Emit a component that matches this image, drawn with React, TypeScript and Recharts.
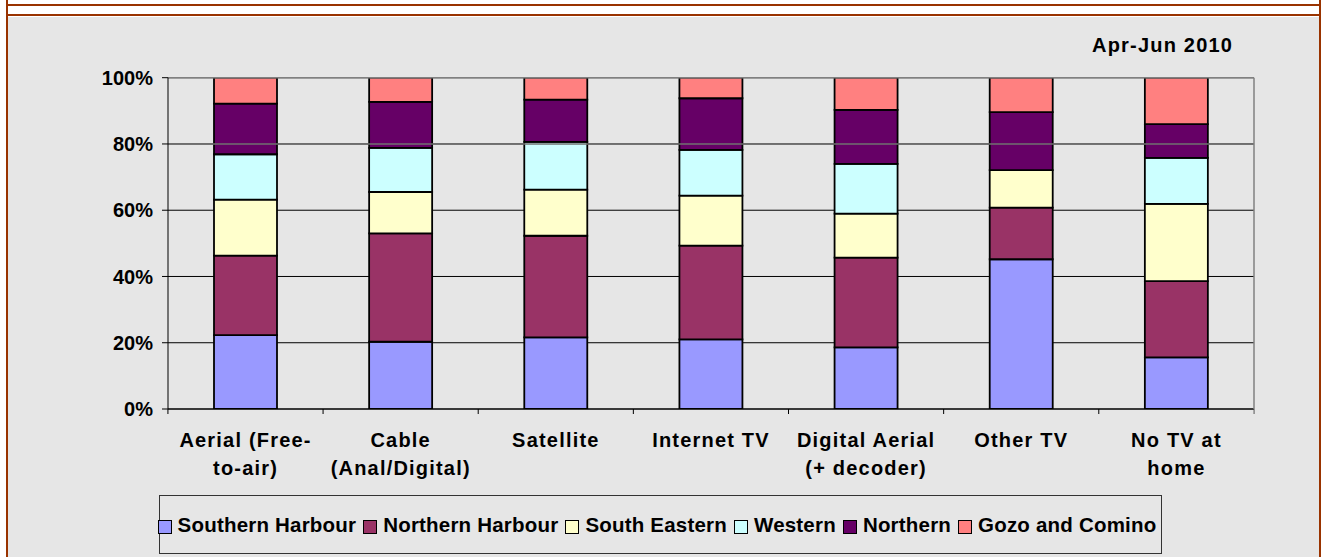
import { Bar, BarChart, CartesianGrid, ReferenceLine, XAxis, YAxis } from 'recharts'

const categories = [
  'Aerial (Free-\nto-air)',
  'Cable\n(Anal/Digital)',
  'Satellite',
  'Internet TV',
  'Digital Aerial\n(+ decoder)',
  'Other TV',
  'No TV at\nhome',
]

const southernHarbour = [22.3, 20.3, 21.6, 21.0, 18.6, 45.2, 15.6]
const northernHarbour = [24.0, 32.7, 30.7, 28.3, 27.1, 15.6, 23.0]
const southEastern = [16.9, 12.5, 13.9, 15.1, 13.3, 11.3, 23.3]
const western = [13.7, 13.3, 14.4, 13.8, 15.0, 0, 13.9]
const northern = [15.3, 13.9, 12.8, 15.6, 16.3, 17.5, 10.2]
const gozoComino = [7.8, 7.3, 6.6, 6.2, 9.7, 10.4, 14.0]

const yTicks = [0, 20, 40, 60, 80, 100]

const series = [
  { key: 'sh', name: 'Southern Harbour', color: '#9999ff', values: southernHarbour },
  { key: 'nh', name: 'Northern Harbour', color: '#993366', values: northernHarbour },
  { key: 'se', name: 'South Eastern', color: '#ffffcc', values: southEastern },
  { key: 'w', name: 'Western', color: '#ccffff', values: western },
  { key: 'n', name: 'Northern', color: '#660066', values: northern },
  { key: 'gc', name: 'Gozo and Comino', color: '#ff8080', values: gozoComino },
]

const data = categories.map((cat, i) => {
  const row: Record<string, string | number> = { cat }
  series.forEach((s) => {
    row[s.key] = s.values[i]
  })
  return row
})

const W = 1328
const H = 557
const PLOT_LEFT = 168
const PLOT_RIGHT = 1255
const PLOT_TOP = 77.7
const PLOT_BOTTOM = 409
const Y_AXIS_W = 60
const X_AXIS_H = 100
const BAND = (PLOT_RIGHT - PLOT_LEFT) / categories.length

const FONT = '"Liberation Sans", Arial, sans-serif'
const BROWN = '#993300'
const BG = '#e6e6e6'

function CategoryTick(props: any) {
  const { x, y, payload, index } = props
  const lines = String(payload.value).split('\n')
  return (
    <g>
      <line x1={x - BAND / 2} x2={x - BAND / 2} y1={y} y2={y + 5} stroke="#000" />
      {index === categories.length - 1 && (
        <line x1={x + BAND / 2} x2={x + BAND / 2} y1={y} y2={y + 5} stroke="#555" />
      )}
      {lines.map((ln, i) => (
        <text
          key={i}
          x={x}
          y={y + 38 + i * 28}
          textAnchor="middle"
          fontFamily={FONT}
          fontWeight="bold"
          fontSize={20}
          letterSpacing={1.2}
          fill="#000"
        >
          {ln}
        </text>
      ))}
    </g>
  )
}

export default function App() {
  return (
    <div style={{ position: 'absolute', left: 0, top: 0, width: W, height: H, background: '#fff', overflow: 'hidden' }}>
      <div style={{ position: 'absolute', left: 7, top: 17, width: 1312, height: H - 17, background: BG }} />
      <div style={{ position: 'absolute', left: 6, top: 4, width: 1315, height: 2, background: BROWN }} />
      <div style={{ position: 'absolute', left: 6, top: 14, width: 1315, height: 2, background: BROWN }} />
      <div style={{ position: 'absolute', left: 6, top: 0, width: 2, height: H, background: BROWN }} />
      <div style={{ position: 'absolute', left: 1319, top: 0, width: 2, height: H, background: BROWN }} />

      <div style={{ position: 'absolute', left: 0, top: 0 }}>
        <BarChart
          width={W}
          height={H}
          data={data}
          barSize={63}
          margin={{
            top: PLOT_TOP,
            right: W - PLOT_RIGHT,
            left: PLOT_LEFT - Y_AXIS_W,
            bottom: H - PLOT_BOTTOM - X_AXIS_H,
          }}
        >
          <CartesianGrid horizontal vertical={false} stroke="#000" strokeOpacity={1} />
          <XAxis
            dataKey="cat"
            interval={0}
            height={X_AXIS_H}
            tickLine={false}
            tickSize={0}
            tickMargin={0}
            axisLine={{ stroke: '#000' }}
            tick={CategoryTick}
          />
          <YAxis
            width={Y_AXIS_W}
            domain={[0, 100]}
            ticks={yTicks}
            allowDataOverflow
            tickFormatter={(v: number) => `${v}%`}
            tickSize={6}
            tickMargin={9}
            axisLine={{ stroke: '#000' }}
            tickLine={{ stroke: '#000' }}
            tick={{ fill: '#000', fontFamily: FONT, fontWeight: 'bold', fontSize: 20 }}
          />
          <YAxis
            yAxisId="r"
            orientation="right"
            width={1}
            domain={[0, 100]}
            tick={false}
            tickLine={false}
            axisLine={{ stroke: '#808080', strokeWidth: 1.5 }}
          />
          {series.map((s) => (
            <Bar
              key={s.key}
              dataKey={s.key}
              name={s.name}
              stackId="a"
              fill={s.color}
              stroke="#000"
              strokeWidth={1.8}
              isAnimationActive={false}
            />
          ))}
          <ReferenceLine y={100} stroke="#808080" strokeWidth={1.5} />
          <ReferenceLine y={80} stroke="#707070" strokeWidth={1.5} />
        </BarChart>
      </div>

      <div
        style={{
          position: 'absolute',
          left: 1092,
          top: 35,
          fontFamily: FONT,
          fontWeight: 'bold',
          fontSize: 20,
          letterSpacing: 1.2,
          lineHeight: '20px',
          color: '#000',
          whiteSpace: 'nowrap',
        }}
      >
        Apr-Jun 2010
      </div>

      <div
        style={{
          position: 'absolute',
          left: 159,
          top: 495,
          width: 1003,
          height: 59,
          boxSizing: 'border-box',
          border: '1px solid #333',
          display: 'flex',
          alignItems: 'center',
          justifyContent: 'center',
          fontFamily: FONT,
          fontWeight: 'bold',
          fontSize: 20.5,
          letterSpacing: 0.2,
          color: '#000',
          whiteSpace: 'nowrap',
        }}
      >
        {series.map((s) => (
          <div key={s.key} style={{ display: 'flex', alignItems: 'center', marginRight: 7 }}>
            <span
              style={{
                display: 'inline-block',
                width: 12,
                height: 12,
                background: s.color,
                border: '1px solid #000',
                marginRight: 6,
                marginTop: 5,
              }}
            />
            <span>{s.name}</span>
          </div>
        ))}
      </div>
    </div>
  )
}
